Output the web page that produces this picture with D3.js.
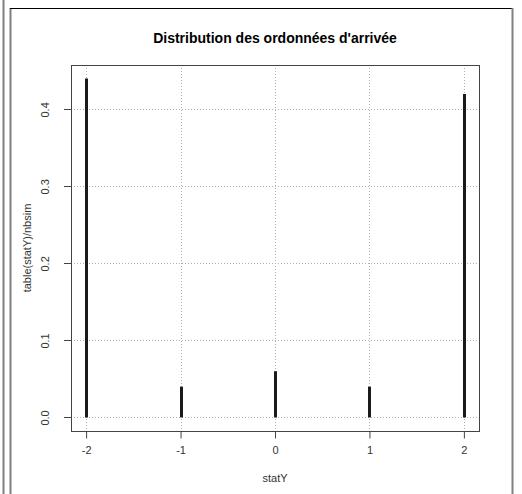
<!DOCTYPE html>
<html>
<head>
<meta charset="utf-8">
<script src="https://cdn.jsdelivr.net/npm/d3@7"></script>
<style>
    body { margin: 0; background: white; }
    svg { display: block; font-family: Arial, "Liberation Sans", sans-serif; }
</style>
</head>
<body>
<div id="chart"></div>
<script>
const categories = [-2, -1, 0, 1, 2];
const values = [0.44, 0.04, 0.06, 0.04, 0.42];
const yTicks = [0.0, 0.1, 0.2, 0.3, 0.4];
const xTicks = [-2, -1, 0, 1, 2];

const width = 522;
const height = 494;
const margin = { top: 65, right: 43, bottom: 63, left: 71 };

const svg = d3.select('#chart')
    .append('svg')
    .attr('width', width)
    .attr('height', height);

// window frame
svg.append('line').attr('x1', 3.5).attr('x2', 3.5).attr('y1', 0).attr('y2', height)
    .attr('stroke', '#808080').attr('stroke-width', 2);
svg.append('line').attr('x1', 10.5).attr('x2', 10.5).attr('y1', 8).attr('y2', height)
    .attr('stroke', '#808080').attr('stroke-width', 2);
svg.append('line').attr('x1', 10).attr('x2', 512).attr('y1', 8.5).attr('y2', 8.5)
    .attr('stroke', 'black').attr('stroke-width', 1);
svg.append('line').attr('x1', 512.5).attr('x2', 512.5).attr('y1', 8).attr('y2', height)
    .attr('stroke', '#808080').attr('stroke-width', 2);

// R style 4% extension
const x = d3.scaleLinear()
    .domain([-2 - 0.16, 2 + 0.16])
    .range([margin.left, width - margin.right]);
const yMax = d3.max(values);
const y = d3.scaleLinear()
    .domain([-yMax * 0.04, yMax * 1.04])
    .range([height - margin.bottom, margin.top]);

// grid
const grid = svg.append('g').attr('stroke', '#b0b0b0').attr('stroke-dasharray', '1,2');
grid.selectAll('.gx')
    .data(xTicks)
    .enter().append('line')
    .attr('x1', d => Math.round(x(d)) + 0.5)
    .attr('x2', d => Math.round(x(d)) + 0.5)
    .attr('y1', margin.top)
    .attr('y2', height - margin.bottom);
grid.selectAll('.gy')
    .data(yTicks)
    .enter().append('line')
    .attr('x1', margin.left)
    .attr('x2', width - margin.right)
    .attr('y1', d => Math.round(y(d)) + 0.5)
    .attr('y2', d => Math.round(y(d)) + 0.5);

// bars (type = "h")
svg.append('g')
    .selectAll('line')
    .data(categories)
    .enter().append('line')
    .attr('x1', d => Math.round(x(d)) + 0.5)
    .attr('x2', d => Math.round(x(d)) + 0.5)
    .attr('y1', y(0))
    .attr('y2', (d, i) => y(values[i]))
    .attr('stroke', '#1a1a1a')
    .attr('stroke-width', 3);

// box
svg.append('rect')
    .attr('x', margin.left + 0.5)
    .attr('y', margin.top + 0.5)
    .attr('width', width - margin.left - margin.right)
    .attr('height', height - margin.top - margin.bottom)
    .attr('fill', 'none')
    .attr('stroke', '#444');

// axes
const xAxis = svg.append('g')
    .attr('transform', `translate(0,${height - margin.bottom + 0.5})`)
    .call(d3.axisBottom(x).tickValues(xTicks).tickSize(7).tickPadding(8).tickFormat(d => String(d)));
const yAxis = svg.append('g')
    .attr('transform', `translate(${margin.left - 14.5},0)`)
    .call(d3.axisLeft(y).tickValues(yTicks).tickSize(0).tickFormat(d3.format('.1f')));

[xAxis, yAxis].forEach(a => {
    a.select('.domain').remove();
    a.selectAll('text').attr('font-size', 11).attr('fill', '#333').attr('font-family', 'Arial, "Liberation Sans", sans-serif');
    a.selectAll('line').attr('stroke', '#444');
});

// y ticks drawn as small lines to the left of the box
svg.append('g')
    .selectAll('line')
    .data(yTicks)
    .enter().append('line')
    .attr('x1', margin.left - 7)
    .attr('x2', margin.left)
    .attr('y1', d => Math.round(y(d)) + 0.5)
    .attr('y2', d => Math.round(y(d)) + 0.5)
    .attr('stroke', '#444');

yAxis.selectAll('.tick text')
    .attr('dy', 0)
    .attr('dx', 0)
    .attr('text-anchor', 'middle')
    .attr('transform', 'rotate(-90)')
    .attr('x', 0)
    .attr('y', -8);

// title and axis labels
svg.append('text')
    .attr('x', (margin.left + width - margin.right) / 2)
    .attr('y', 43)
    .attr('text-anchor', 'middle')
    .attr('font-size', 14)
    .attr('font-weight', 'bold')
    .attr('fill', 'black')
    .text("Distribution des ordonnées d'arrivée");

svg.append('text')
    .attr('x', (margin.left + width - margin.right) / 2)
    .attr('y', 482)
    .attr('text-anchor', 'middle')
    .attr('font-size', 11)
    .attr('fill', '#333')
    .text('statY');

svg.append('text')
    .attr('transform', `translate(31,${(margin.top + height - margin.bottom) / 2}) rotate(-90)`)
    .attr('text-anchor', 'middle')
    .attr('font-size', 11)
    .attr('fill', '#333')
    .text('table(statY)/nbsim');
</script>
</body>
</html>
